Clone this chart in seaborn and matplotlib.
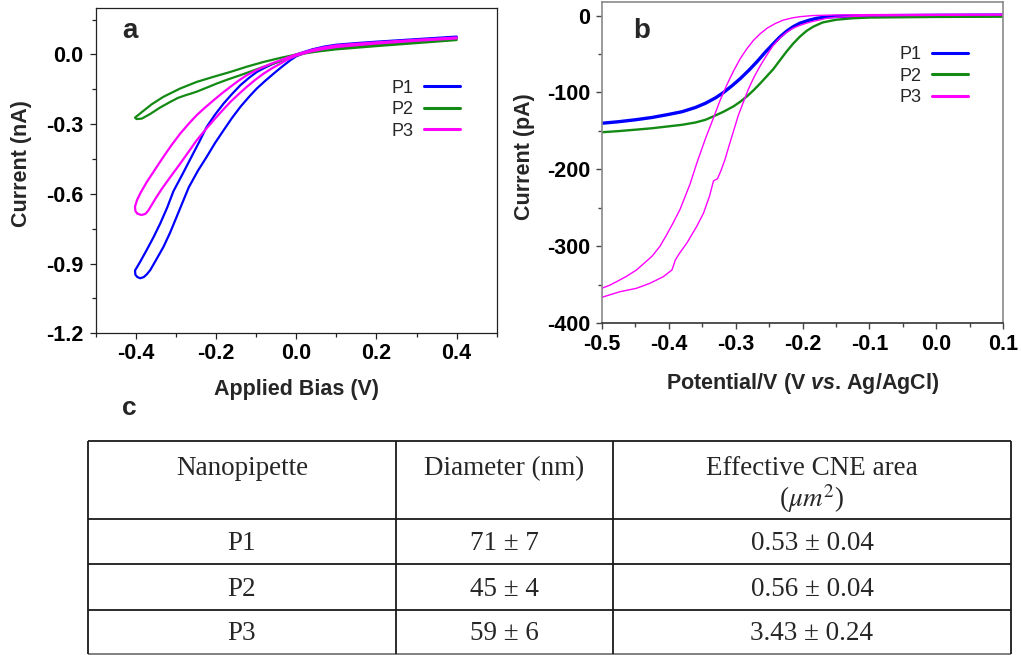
import matplotlib
matplotlib.use("Agg")
import matplotlib.pyplot as plt
import seaborn as sns
from matplotlib.ticker import MultipleLocator, FormatStrFormatter

# panel a: current-voltage loops, bias (V) vs current (nA)
a_p1_v = [0.4, 0.3, 0.2, 0.15, 0.1, 0.07, 0.04, 0.02, 0.0,
          -0.015, -0.03, -0.056, -0.077, -0.098, -0.118, -0.139, -0.16, -0.181, -0.202, -0.223, -0.243,
          -0.264, -0.285, -0.306, -0.322, -0.339, -0.356, -0.373, -0.39, -0.402, -0.401, -0.396, -0.389,
          -0.38, -0.372, -0.364, -0.348, -0.331, -0.314, -0.298, -0.283, -0.268, -0.245, -0.223, -0.202,
          -0.181, -0.16, -0.139, -0.118, -0.098, -0.077, -0.056, -0.035, -0.014, 0.0,
          0.02, 0.04, 0.07, 0.1, 0.15, 0.2, 0.3, 0.4]
a_p1_i = [0.077, 0.066, 0.055, 0.049, 0.042, 0.034, 0.022, 0.011, 0.0,
          -0.009, -0.02, -0.039, -0.056, -0.075, -0.101, -0.132, -0.17, -0.211, -0.258, -0.311, -0.38,
          -0.45, -0.52, -0.588, -0.66, -0.727, -0.787, -0.842, -0.895, -0.93, -0.948, -0.958, -0.963,
          -0.958, -0.945, -0.928, -0.88, -0.828, -0.765, -0.698, -0.635, -0.572, -0.5, -0.44, -0.38,
          -0.326, -0.273, -0.225, -0.183, -0.146, -0.113, -0.082, -0.052, -0.024, -0.008,
          0.006, 0.016, 0.027, 0.035, 0.043, 0.05, 0.062, 0.073]

a_p2_v = [0.4, 0.3, 0.2, 0.1, 0.05, 0.02, 0.0,
          -0.04, -0.081, -0.122, -0.164, -0.206, -0.248, -0.29, -0.331, -0.36, -0.385, -0.402, -0.398,
          -0.385, -0.364, -0.34, -0.314, -0.295, -0.277, -0.262, -0.248, -0.222, -0.198, -0.168, -0.139,
          -0.11, -0.081, -0.048, -0.014, 0.0,
          0.02, 0.05, 0.1, 0.2, 0.3, 0.4]
a_p2_i = [0.067, 0.055, 0.043, 0.029, 0.018, 0.008, 0.0,
          -0.015, -0.032, -0.052, -0.075, -0.096, -0.118, -0.147, -0.182, -0.214, -0.248, -0.272, -0.278,
          -0.276, -0.256, -0.229, -0.204, -0.187, -0.176, -0.168, -0.16, -0.142, -0.125, -0.106, -0.089,
          -0.071, -0.053, -0.034, -0.014, -0.005,
          0.004, 0.012, 0.022, 0.036, 0.049, 0.062]

a_p3_v = [0.4, 0.3, 0.2, 0.15, 0.1, 0.07, 0.04, 0.02, 0.0,
          -0.02, -0.039, -0.06, -0.081, -0.102, -0.123, -0.143, -0.164, -0.185, -0.206, -0.227, -0.248,
          -0.268, -0.289, -0.31, -0.331, -0.352, -0.373, -0.388, -0.397, -0.402, -0.401, -0.396, -0.386,
          -0.376, -0.369, -0.364, -0.35, -0.335, -0.312, -0.289, -0.268, -0.248, -0.227, -0.206, -0.185,
          -0.164, -0.143, -0.123, -0.102, -0.081, -0.06, -0.039, -0.02, 0.0,
          0.02, 0.04, 0.07, 0.1, 0.15, 0.2, 0.3, 0.4]
a_p3_i = [0.073, 0.063, 0.052, 0.046, 0.039, 0.031, 0.02, 0.01, 0.0,
          -0.012, -0.025, -0.038, -0.053, -0.07, -0.089, -0.112, -0.139, -0.167, -0.197, -0.228, -0.261,
          -0.298, -0.34, -0.388, -0.44, -0.495, -0.55, -0.595, -0.627, -0.655, -0.674, -0.685, -0.691,
          -0.686, -0.672, -0.658, -0.618, -0.578, -0.523, -0.469, -0.418, -0.369, -0.325, -0.283, -0.243,
          -0.204, -0.17, -0.139, -0.109, -0.082, -0.059, -0.039, -0.02, -0.005,
          0.005, 0.014, 0.024, 0.032, 0.04, 0.047, 0.059, 0.069]

# panel b: voltammograms, potential (V vs Ag/AgCl) vs current (pA)
b_p1_v = [-0.5, -0.475, -0.45, -0.425, -0.4, -0.38, -0.36, -0.345, -0.33, -0.318, -0.305, -0.293, -0.28,
          -0.268, -0.256, -0.244, -0.234, -0.224, -0.214, -0.204, -0.19, -0.179, -0.165, -0.15, -0.12,
          -0.1, 0.0, 0.1]
b_p1_i = [-140, -138, -135.5, -132.5, -128.5, -125, -119.5, -114, -107, -100, -91, -82, -71,
          -60, -48, -37, -28, -20.5, -14.5, -10, -6, -3.6, -2, -1.2, -0.5,
          -0.3, 0.3, 0.6]

b_p2_v = [-0.5, -0.475, -0.45, -0.425, -0.4, -0.38, -0.36, -0.345, -0.333, -0.318, -0.303, -0.293, -0.283,
          -0.273, -0.263, -0.254, -0.244, -0.234, -0.224, -0.214, -0.204, -0.194, -0.184, -0.17, -0.15,
          -0.125, -0.1, 0.0, 0.1]
b_p2_i = [-151.7, -150.2, -148.4, -146.5, -144, -142, -139, -135.5, -131, -125, -118, -112, -105,
          -97, -88, -79.5, -70, -58.5, -47, -36.5, -27.5, -20, -14.5, -9, -5.5,
          -3.5, -2.6, -1.8, -1.5]

b_p3_v = [-0.5, -0.488, -0.478, -0.463, -0.448, -0.438, -0.425, -0.413, -0.403, -0.393, -0.383, -0.368,
          -0.358, -0.345, -0.333, -0.323, -0.313, -0.303, -0.293, -0.283, -0.273, -0.263, -0.253, -0.241,
          -0.229, -0.215, -0.204, -0.185, -0.15, -0.1, 0.0, 0.1,
          0.1, 0.0, -0.1, -0.13, -0.15, -0.164, -0.174, -0.184, -0.194, -0.204, -0.214, -0.224,
          -0.234, -0.244, -0.253, -0.263, -0.273, -0.281, -0.288, -0.296, -0.303, -0.31, -0.316, -0.322,
          -0.327, -0.333, -0.339, -0.348, -0.358, -0.373, -0.383, -0.39, -0.395, -0.408, -0.428, -0.448,
          -0.473, -0.499, -0.5, -0.5]
b_p3_i = [-354.5, -350.5, -346, -339, -330.7, -323, -313, -300, -285, -269, -252, -219,
          -192, -160, -133, -110, -90, -72, -56, -43, -32, -23.5, -16.5, -10.5,
          -6, -3, -1.5, 0, 0.8, 1.2, 1.5, 1.8,
          0.5, 0.3, -0.4, -1.2, -2.2, -3.6, -5.6, -7.5, -9.9, -12.8, -16.4, -22,
          -29.4, -39, -51, -65, -81, -96, -111.8, -130, -150, -170, -187.6, -202,
          -212, -215, -235, -257, -274, -296, -308, -317.7, -330.7, -339.4, -348, -354.5,
          -359, -366, -366, -354.5]

# panel c: table
table_header = ["Nanopipette", "Diameter (nm)", "Effective CNE area\n($\\mu m^2$)"]
pipettes = ["P1", "P2", "P3"]
diameters = ["71 ± 7", "45 ± 4", "59 ± 6"]
cne_areas = ["0.53 ± 0.04", "0.56 ± 0.04", "3.43 ± 0.24"]

colors = {"P1": "#0000ff", "P2": "#138a13", "P3": "#ff00ff"}

sns.set_style("ticks")
plt.rcParams['font.family'] = ['Liberation Sans', 'DejaVu Sans']
plt.rcParams['axes.unicode_minus'] = False
plt.rcParams['mathtext.fontset'] = 'custom'
plt.rcParams['mathtext.rm'] = 'Liberation Sans:bold'
plt.rcParams['mathtext.it'] = 'Liberation Sans:italic:bold'
plt.rcParams['mathtext.bf'] = 'Liberation Sans:bold'

W, H = 1021, 655
fig = plt.figure(figsize=(W / 100, H / 100), dpi=100)


def px_axes(x0, y0, x1, y1):
    return fig.add_axes([x0 / W, 1 - y1 / H, (x1 - x0) / W, (y1 - y0) / H])


ax_a = px_axes(95.7, 8, 496.7, 333.3)
ax_b = px_axes(601.7, 1.7, 1003.3, 323.3)

for name, v, i in [("P1", a_p1_v, a_p1_i), ("P2", a_p2_v, a_p2_i), ("P3", a_p3_v, a_p3_i)]:
    sns.lineplot(x=v, y=i, sort=False, estimator=None, color=colors[name], linewidth=1.6,
                 label=name, ax=ax_a)

b_widths = {"P1": 2.4, "P2": 1.7, "P3": 1.0}
for name, v, i in [("P1", b_p1_v, b_p1_i), ("P2", b_p2_v, b_p2_i), ("P3", b_p3_v, b_p3_i)]:
    sns.lineplot(x=v, y=i, sort=False, estimator=None, color=colors[name], linewidth=b_widths[name],
                 label=name, ax=ax_b)

# axis a
ax_a.set_xlim(-0.5, 0.5)
ax_a.set_ylim(-1.2, 0.2)
ax_a.xaxis.set_major_locator(MultipleLocator(0.2))
ax_a.xaxis.set_minor_locator(MultipleLocator(0.1))
ax_a.yaxis.set_major_locator(MultipleLocator(0.3))
ax_a.yaxis.set_minor_locator(MultipleLocator(0.15))
ax_a.xaxis.set_major_formatter(FormatStrFormatter('%.1f'))
ax_a.yaxis.set_major_formatter(FormatStrFormatter('%.1f'))
ax_a.set_xlabel('Applied Bias (V)', fontsize=15.5, fontweight='bold')
ax_a.set_ylabel('Current (nA)', fontsize=15.5, fontweight='bold')
ax_a.xaxis.set_label_coords(0.5, -0.142)
ax_a.yaxis.set_label_coords(-0.158, 0.523)
for s in ax_a.spines.values():
    s.set_color('#222222')
    s.set_linewidth(0.9)
ax_a.tick_params(which='both', direction='out', colors='#222222', width=0.9)
ax_a.tick_params(which='major', length=4.3, labelsize=15.5)
ax_a.tick_params(which='minor', length=3)
ax_a.tick_params(axis='x', which='major', pad=2.5)
ax_a.tick_params(axis='y', which='major', pad=4.5)
ax_a.text(0.066, 0.908, 'a', transform=ax_a.transAxes, fontsize=20, fontweight='bold', va='baseline')

# axis b
ax_b.set_xlim(-0.5, 0.1)
ax_b.set_ylim(-400, 18)
ax_b.xaxis.set_major_locator(MultipleLocator(0.1))
ax_b.xaxis.set_minor_locator(MultipleLocator(0.05))
ax_b.yaxis.set_major_locator(MultipleLocator(100))
ax_b.yaxis.set_minor_locator(MultipleLocator(50))
ax_b.xaxis.set_major_formatter(FormatStrFormatter('%.1f'))
ax_b.yaxis.set_major_formatter(FormatStrFormatter('%d'))
ax_b.set_xlabel('Potential/V (V $\\mathit{vs}$. Ag/AgCl)', fontsize=15.5, fontweight='bold')
ax_b.set_ylabel('Current (pA)', fontsize=15.5, fontweight='bold')
ax_b.xaxis.set_label_coords(0.5, -0.148)
ax_b.yaxis.set_label_coords(-0.166, 0.517)
for s in ax_b.spines.values():
    s.set_color('#8a8a8a')
    s.set_linewidth(1.2)
ax_b.spines['bottom'].set_color('#333333')
ax_b.tick_params(which='both', direction='out', colors='#444444', width=1.0)
ax_b.tick_params(which='major', length=4.5, labelsize=15.5)
ax_b.tick_params(which='minor', length=3)
ax_b.tick_params(axis='x', which='major', pad=3)
ax_b.tick_params(axis='y', which='major', pad=4)
for lbl in ax_a.get_xticklabels() + ax_a.get_yticklabels() + ax_b.get_xticklabels() + ax_b.get_yticklabels():
    lbl.set_fontweight('bold')
    lbl.set_color('black')
ax_b.text(0.078, 0.887, 'b', transform=ax_b.transAxes, fontsize=20, fontweight='bold', va='baseline')

ax_a.legend(loc='upper right', bbox_to_anchor=(0.909, 0.78), markerfirst=False, frameon=False,
            fontsize=13, handlelength=2.0, handletextpad=0.6, labelspacing=0.25,
            borderpad=0, borderaxespad=0)
ax_b.legend(loc='upper right', bbox_to_anchor=(0.912, 0.862), markerfirst=False, frameon=False,
            fontsize=13, handlelength=2.0, handletextpad=0.6, labelspacing=0.25,
            borderpad=0, borderaxespad=0)
for leg in [ax_a.get_legend(), ax_b.get_legend()]:
    for h in leg.legend_handles:
        h.set_linewidth(2.2)

# panel c: table drawn in pixel units
col_edges = [88, 396, 613, 1011]
row_edges = [441, 519, 564, 610, 654]
ax_t = px_axes(col_edges[0], row_edges[0], col_edges[-1], row_edges[-1])
ax_t.set_xlim(col_edges[0], col_edges[-1])
ax_t.set_ylim(row_edges[-1], row_edges[0])
ax_t.axis('off')
ax_t.hlines(row_edges[:-1], col_edges[0], col_edges[-1], color='#1a1a1a', lw=1.3, clip_on=False)
ax_t.hlines(row_edges[-1], col_edges[0], col_edges[-1], color='#777777', lw=1.3, clip_on=False)
ax_t.vlines(col_edges, row_edges[0], row_edges[-1], color='#1a1a1a', lw=1.3, clip_on=False)

centers = [(col_edges[k] + col_edges[k + 1]) / 2 for k in range(3)]
serif = dict(family='Liberation Serif', fontsize=19.5, ha='center', math_fontfamily='stix')
for k, head in enumerate(table_header):
    ax_t.text(centers[k], 456, head, va='top', linespacing=1.05, **serif)
for r, row in enumerate(zip(pipettes, diameters, cne_areas)):
    yc = (row_edges[r + 1] + row_edges[r + 2]) / 2 + 2
    for k, val in enumerate(row):
        ax_t.text(centers[k], yc, val, va='center', **serif)

fig.text(122 / W, 1 - 415 / H, 'c', fontsize=19, fontweight='bold', va='baseline')

fig.savefig('out.png', dpi=100)
